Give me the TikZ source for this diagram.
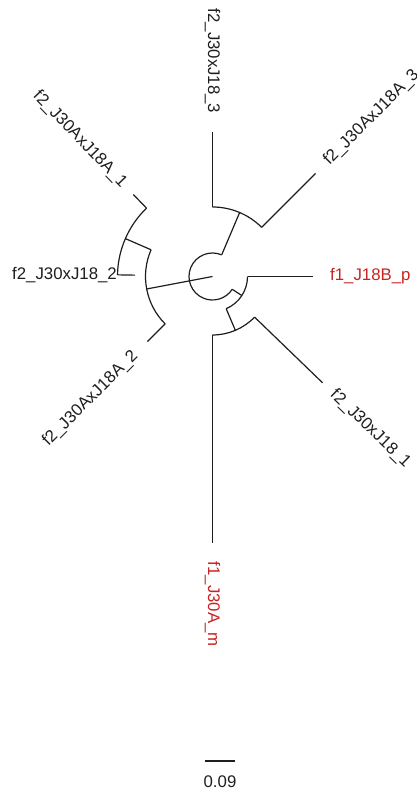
\documentclass[tikz,border=0pt]{standalone}
\usepackage{fontspec}
\setmainfont{Liberation Sans}
\definecolor{lblred}{RGB}{200,35,35}
\definecolor{ink}{RGB}{30,30,30}
\begin{document}
\begin{tikzpicture}[x=1pt,y=1pt,
  br/.style={line width=1.2pt, draw=ink},
  lbl/.style={font=\fontsize{16.8}{18}\selectfont, inner sep=0pt, text=ink},
  redlbl/.style={lbl, text=lblred}]
\useasboundingbox (0,0) rectangle (416,795);
\begin{scope}[shift={(212.5,518.5)}]
  % internal points
  \coordinate (root) at (0,0);
  \coordinate (ra) at (67:23.5);
  \coordinate (rb) at (327:23.5);
  \coordinate (u0) at (67:69.5);
  \coordinate (ua) at (45:69.5);
  \coordinate (ub) at (90:69.5);
  \coordinate (l0) at (190.75:67);
  \coordinate (la) at (156.5:67);
  \coordinate (lb) at (225:67);
  \coordinate (m0) at (156.5:95);
  \coordinate (ma) at (134:95);
  \coordinate (mb) at (179:95);
  \coordinate (n2) at (327:35);
  \coordinate (n2a) at (293:35);
  \coordinate (n2b) at (360:35);
  \coordinate (n3) at (293:58.5);
  \coordinate (n3a) at (270:58.5);
  \coordinate (n3b) at (316:58.5);
  % leaf ends
  \coordinate (e3) at (90:144.5);
  \coordinate (eA3) at (45:145.7);
  \coordinate (eA1) at (134:114);
  \coordinate (e2) at (179:77.5);
  \coordinate (eA2) at (225:92);
  \coordinate (ep) at (0:100.5);
  \coordinate (e1) at (316:153);
  \coordinate (em) at (270:266.5);
  % labels
  \node[lbl, rotate=-90, anchor=east] (t3) at (90:163) {f2\_J30xJ18\_3};
  \node[lbl, rotate=45, anchor=west] (tA3) at (45:161) {f2\_J30AxJ18A\_3};
  \node[lbl, rotate=-46, anchor=east] (tA1) at (134:127) {f2\_J30AxJ18A\_1};
  \node[lbl, anchor=east] (t2) at (179:95.5) {f2\_J30xJ18\_2};
  \node[lbl, rotate=45, anchor=east] (tA2) at (225:109) {f2\_J30AxJ18A\_2};
  \node[redlbl, anchor=west] (tp) at (0:117.5) {f1\_J18B\_p};
  \node[lbl, rotate=-44, anchor=west] (t1) at (316:167) {f2\_J30xJ18\_1};
  \node[redlbl, rotate=-90, anchor=west] (tm) at (270:285) {f1\_J30A\_m};
  % root arc and branches
  \draw[br] (ra) arc[start angle=67, end angle=327, radius=23.5];
  \draw[br] (ra) -- (u0);
  \draw[br] (root) -- (l0);
  \draw[br] (rb) -- (n2);
  % upper clade
  \draw[br] (ua) arc[start angle=45, end angle=90, radius=69.5];
  \draw[br] (ub) -- (e3);
  \draw[br] (ua) -- (eA3);
  % left clade
  \draw[br] (la) arc[start angle=156.5, end angle=225, radius=67];
  \draw[br] (la) -- (m0);
  \draw[br] (lb) -- (eA2);
  \draw[br] (ma) arc[start angle=134, end angle=179, radius=95];
  \draw[br] (ma) -- (eA1);
  \draw[br] (mb) -- (e2);
  % lower clade
  \draw[br] (n2a) arc[start angle=293, end angle=360, radius=35];
  \draw[br] (n2b) -- (ep);
  \draw[br] (n2a) -- (n3);
  \draw[br] (n3a) arc[start angle=270, end angle=316, radius=58.5];
  \draw[br] (n3a) -- (em);
  \draw[br] (n3b) -- (e1);
\end{scope}
% scale bar
\coordinate (sb1) at (205,34);
\coordinate (sb2) at (235,34);
\draw[br] (sb1) -- (sb2);
\node[lbl] (sbl) at (220,13) {0.09};
\end{tikzpicture}
\end{document}
